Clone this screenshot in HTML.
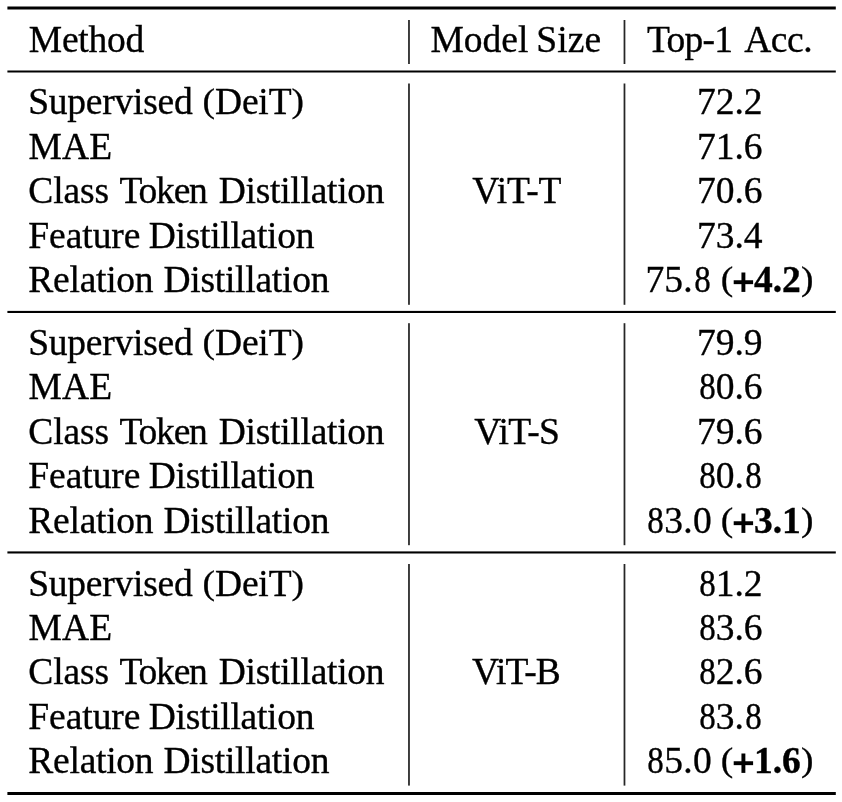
<!DOCTYPE html>
<html><head><meta charset="utf-8"><title>Table</title>
<style>
html,body{margin:0;padding:0;background:#fff;}
body{width:842px;height:802px;position:relative;overflow:hidden;filter:grayscale(1);}
#w{position:absolute;left:0;top:0;width:842px;height:802px;will-change:transform;font-family:"Liberation Serif",serif;font-size:37.5px;line-height:45px;color:#000;-webkit-text-stroke:0.35px #000;}
#w svg{position:absolute;left:0;top:0;}
.t{position:absolute;white-space:nowrap;height:45px;}
b{font-weight:bold;}
.pl{position:absolute;left:-21px;color:transparent;-webkit-text-stroke:0;}
.p{display:inline-block;transform:translateY(-1px) scaleY(.91);transform-origin:50% 56.6%;}
.e{display:inline-block;transform:scaleX(.88);transform-origin:56% 50%;}
.f{transform:translateX(1px) scaleX(.88);}
</style></head><body><div id="w">
<svg width="842" height="802" viewBox="0 0 842 802">
<rect x="7.4" y="6.5" width="828.4" height="3" fill="#000"/>
<rect x="7.4" y="70.5" width="828.4" height="2" fill="#000"/>
<rect x="7.4" y="310.9" width="828.4" height="2.1" fill="#000"/>
<rect x="7.4" y="551.4" width="828.4" height="2.1" fill="#000"/>
<rect x="7.4" y="792" width="828.4" height="3" fill="#000"/>
<rect x="408.1" y="20" width="1.75" height="44" fill="#262626"/>
<rect x="408.1" y="83.5" width="1.75" height="221.3" fill="#262626"/>
<rect x="408.1" y="323.2" width="1.75" height="222" fill="#262626"/>
<rect x="408.1" y="564" width="1.75" height="221.6" fill="#262626"/>
<rect x="623.6" y="20" width="1.75" height="44" fill="#262626"/>
<rect x="623.6" y="83.5" width="1.75" height="221.3" fill="#262626"/>
<rect x="623.6" y="323.2" width="1.75" height="222" fill="#262626"/>
<rect x="623.6" y="564" width="1.75" height="221.6" fill="#262626"/>
<rect x="733.7" y="280.25" width="19.4" height="3.9" fill="#000"/><rect x="741.45" y="272.5" width="3.9" height="19.4" fill="#000"/>
<rect x="733.7" y="521.25" width="19.4" height="3.9" fill="#000"/><rect x="741.45" y="513.5" width="3.9" height="19.4" fill="#000"/>
<rect x="733.7" y="761.25" width="19.4" height="3.9" fill="#000"/><rect x="741.45" y="753.5" width="3.9" height="19.4" fill="#000"/>
</svg>
<div class="t" style="left:28.79px;top:17px;letter-spacing:-0.227px;">Method</div>
<div class="t" style="left:430.4px;top:17px;letter-spacing:0.012px;">Model</div>
<div class="t" style="left:536.16px;top:17px;letter-spacing:0.124px;">Size</div>
<div class="t" style="left:647.1px;top:17px;letter-spacing:-0.775px;">Top-1</div>
<div class="t" style="left:744.15px;top:17px;letter-spacing:-0.443px;">Acc.</div>
<div class="t" style="left:28.16px;top:79px;letter-spacing:-0.225px;">Supervised</div>
<div class="t" style="left:202.62px;top:79px;letter-spacing:-0.154px;"><span class="p">(</span>DeiT<span class="p">)</span></div>
<div class="t" style="left:697px;top:79px;letter-spacing:-0.05px;">72.2</div>
<div class="t" style="left:28.4px;top:124px;letter-spacing:0.26px;">MAE</div>
<div class="t" style="left:697px;top:124px;letter-spacing:-0.05px;">71.6</div>
<div class="t" style="left:28.34px;top:168px;letter-spacing:-0.095px;">Class</div>
<div class="t" style="left:119.49px;top:168px;letter-spacing:-1.208px;">Token</div>
<div class="t" style="left:218.79px;top:168px;letter-spacing:-0.269px;">Distillation</div>
<div class="t" style="left:697px;top:168px;letter-spacing:-0.05px;">70.6</div>
<div class="t" style="left:472.25px;top:168px;letter-spacing:-0.207px;">ViT-T</div>
<div class="t" style="left:28.34px;top:213px;letter-spacing:-0.066px;">Feature</div>
<div class="t" style="left:148.79px;top:213px;letter-spacing:-0.279px;">Distillation</div>
<div class="t" style="left:697px;top:213px;letter-spacing:-0.05px;">73.4</div>
<div class="t" style="left:28.34px;top:257px;letter-spacing:-0.255px;">Relation</div>
<div class="t" style="left:163.44px;top:257px;letter-spacing:-0.249px;">Distillation</div>
<div class="t" style="left:645.39px;top:257px;letter-spacing:0.218px;">75.<span class="e">8</span></div>
<div class="t" style="left:720.8px;top:257px;"><span class="p">(</span></div>
<div class="t" style="left:753.9px;top:257px;"><b><span class="pl">+</span>4.2</b></div>
<div class="t" style="left:801px;top:257px;"><span class="p">)</span></div>
<div class="t" style="left:28.16px;top:320px;letter-spacing:-0.225px;">Supervised</div>
<div class="t" style="left:202.62px;top:320px;letter-spacing:-0.154px;"><span class="p">(</span>DeiT<span class="p">)</span></div>
<div class="t" style="left:697px;top:320px;letter-spacing:-0.05px;">79.9</div>
<div class="t" style="left:28.4px;top:364px;letter-spacing:0.26px;">MAE</div>
<div class="t" style="left:697px;top:364px;letter-spacing:-0.05px;"><span class="e f">8</span>0.6</div>
<div class="t" style="left:28.34px;top:409px;letter-spacing:-0.095px;">Class</div>
<div class="t" style="left:119.49px;top:409px;letter-spacing:-1.208px;">Token</div>
<div class="t" style="left:218.79px;top:409px;letter-spacing:-0.269px;">Distillation</div>
<div class="t" style="left:697px;top:409px;letter-spacing:-0.05px;">79.6</div>
<div class="t" style="left:474.25px;top:409px;letter-spacing:-0.603px;">ViT-S</div>
<div class="t" style="left:28.34px;top:453px;letter-spacing:-0.066px;">Feature</div>
<div class="t" style="left:148.79px;top:453px;letter-spacing:-0.279px;">Distillation</div>
<div class="t" style="left:697px;top:453px;letter-spacing:-0.05px;"><span class="e f">8</span>0.<span class="e">8</span></div>
<div class="t" style="left:28.34px;top:498px;letter-spacing:-0.255px;">Relation</div>
<div class="t" style="left:163.44px;top:498px;letter-spacing:-0.249px;">Distillation</div>
<div class="t" style="left:645.39px;top:498px;letter-spacing:0.218px;"><span class="e f">8</span>3.0</div>
<div class="t" style="left:720.8px;top:498px;"><span class="p">(</span></div>
<div class="t" style="left:753.9px;top:498px;"><b><span class="pl">+</span>3.1</b></div>
<div class="t" style="left:801px;top:498px;"><span class="p">)</span></div>
<div class="t" style="left:28.16px;top:561px;letter-spacing:-0.225px;">Supervised</div>
<div class="t" style="left:202.62px;top:561px;letter-spacing:-0.154px;"><span class="p">(</span>DeiT<span class="p">)</span></div>
<div class="t" style="left:697px;top:561px;letter-spacing:-0.05px;"><span class="e f">8</span>1.2</div>
<div class="t" style="left:28.4px;top:605px;letter-spacing:0.26px;">MAE</div>
<div class="t" style="left:697px;top:605px;letter-spacing:-0.05px;"><span class="e f">8</span>3.6</div>
<div class="t" style="left:28.34px;top:649px;letter-spacing:-0.095px;">Class</div>
<div class="t" style="left:119.49px;top:649px;letter-spacing:-1.208px;">Token</div>
<div class="t" style="left:218.79px;top:649px;letter-spacing:-0.269px;">Distillation</div>
<div class="t" style="left:697px;top:649px;letter-spacing:-0.05px;"><span class="e f">8</span>2.6</div>
<div class="t" style="left:472px;top:649px;letter-spacing:-0.85px;">ViT-B</div>
<div class="t" style="left:28.34px;top:694px;letter-spacing:-0.066px;">Feature</div>
<div class="t" style="left:148.79px;top:694px;letter-spacing:-0.279px;">Distillation</div>
<div class="t" style="left:697px;top:694px;letter-spacing:-0.05px;"><span class="e f">8</span>3.<span class="e">8</span></div>
<div class="t" style="left:28.34px;top:738px;letter-spacing:-0.255px;">Relation</div>
<div class="t" style="left:163.44px;top:738px;letter-spacing:-0.249px;">Distillation</div>
<div class="t" style="left:645.39px;top:738px;letter-spacing:0.218px;"><span class="e f">8</span>5.0</div>
<div class="t" style="left:720.8px;top:738px;"><span class="p">(</span></div>
<div class="t" style="left:753.9px;top:738px;"><b><span class="pl">+</span>1.6</b></div>
<div class="t" style="left:801px;top:738px;"><span class="p">)</span></div>
</div></body></html>
